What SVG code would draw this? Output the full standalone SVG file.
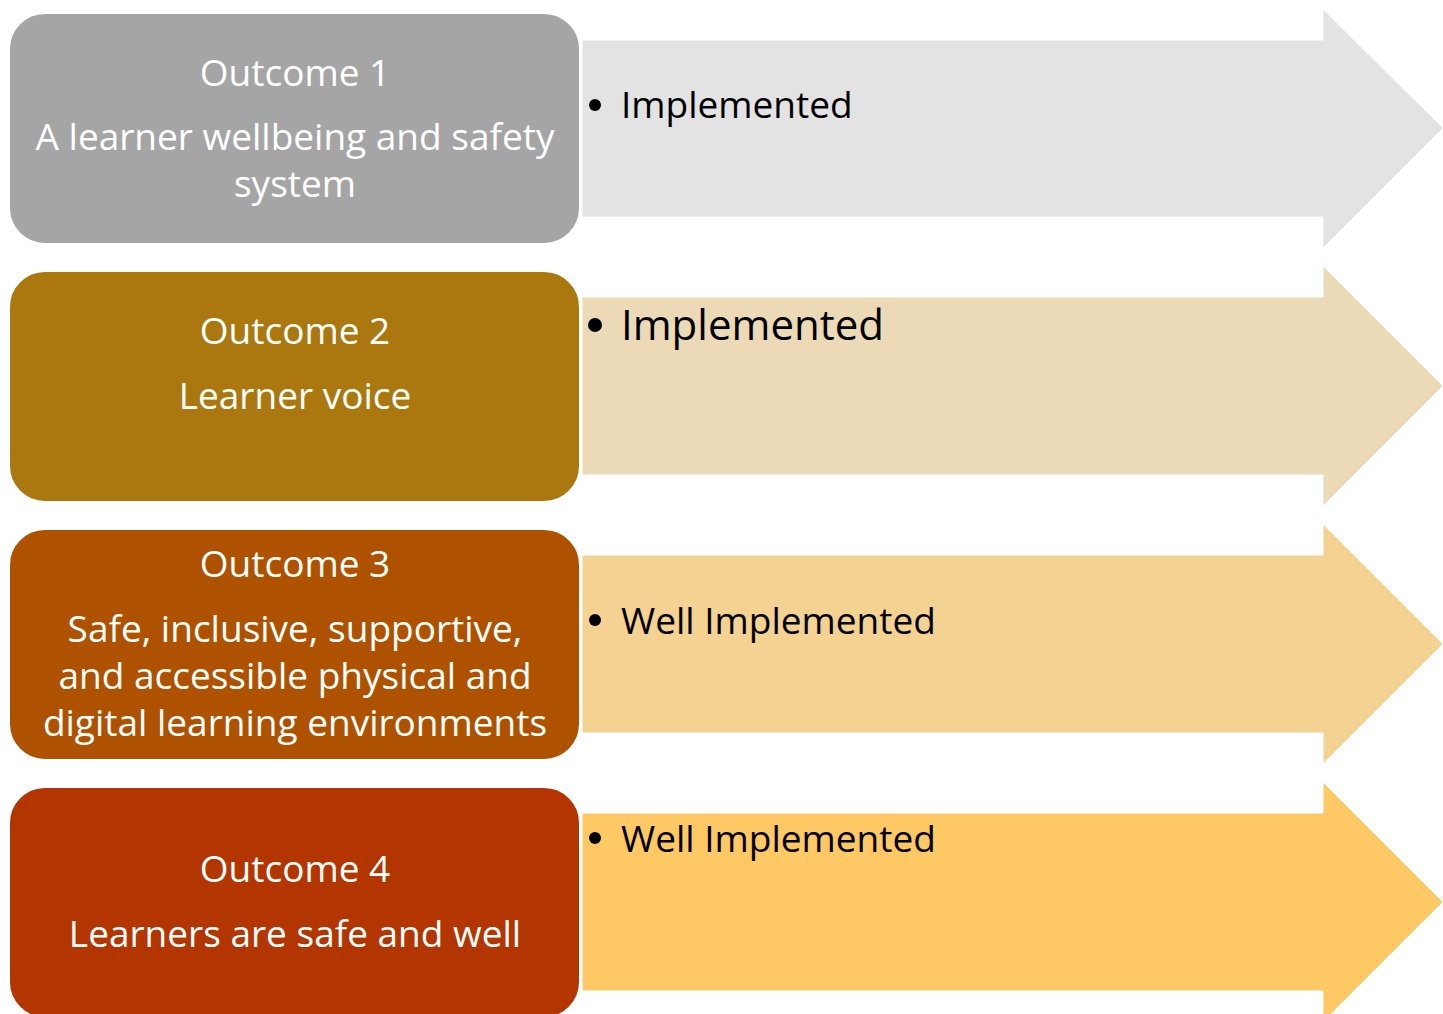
<svg xmlns="http://www.w3.org/2000/svg" width="1443" height="1014" viewBox="0 0 1443 1014">
<style>
.box{stroke:#ffffff;stroke-width:2}
.arr{stroke:#ffffff;stroke-width:1}
.bt{font-family:"Open Sans","Noto Sans",sans-serif;font-size:37px;fill:#ffffff;text-anchor:middle}
.at{font-family:"Open Sans","Noto Sans",sans-serif;font-size:37px;fill:#000000}
</style>
<g id="connectors"></g>
<g id="arrow1"><polygon class="arr" fill="#E3E3E3" points="582,40 1323,40 1323,9 1443,128 1323,248 1323,217 582,217"/><circle cx="595" cy="105" r="6"/><text class="at" x="621" y="118">Implemented</text></g>
<g id="arrow2"><polygon class="arr" fill="#ECD9B6" points="582,297 1323,297 1323,266 1443,386 1323,506 1323,475 582,475"/><circle cx="595" cy="325" r="7"/><text class="at" x="621" y="340" style="font-size:42px">Implemented</text></g>
<g id="arrow3"><polygon class="arr" fill="#F4D291" points="582,555 1323,555 1323,524 1443,644 1323,764 1323,733 582,733"/><circle cx="595" cy="620" r="6"/><text class="at" x="621" y="634">Well Implemented</text></g>
<g id="arrow4"><polygon class="arr" fill="#FEC864" points="582,813 1323,813 1323,782 1443,902 1323,1022 1323,991 582,991"/><circle cx="595" cy="838" r="6"/><text class="at" x="621" y="852">Well Implemented</text></g>
<g id="outcome1"><rect class="box" x="9" y="13" width="571" height="231" rx="36" fill="#A5A5A5"/><text class="bt" x="295" y="86">Outcome 1</text><text class="bt" x="295" y="150">A learner wellbeing and safety</text><text class="bt" x="295" y="197">system</text></g>
<g id="outcome2"><rect class="box" x="9" y="271" width="571" height="231" rx="36" fill="#AB7810"/><text class="bt" x="295" y="344">Outcome 2</text><text class="bt" x="295" y="409">Learner voice</text></g>
<g id="outcome3"><rect class="box" x="9" y="529" width="571" height="231" rx="36" fill="#AE5200"/><text class="bt" x="295" y="577">Outcome 3</text><text class="bt" x="295" y="642">Safe, inclusive, supportive,</text><text class="bt" x="295" y="689">and accessible physical and</text><text class="bt" x="295" y="736">digital learning environments</text></g>
<g id="outcome4"><rect class="box" x="9" y="787" width="571" height="231" rx="36" fill="#B33500"/><text class="bt" x="295" y="882">Outcome 4</text><text class="bt" x="295" y="947">Learners are safe and well</text></g>
</svg>
